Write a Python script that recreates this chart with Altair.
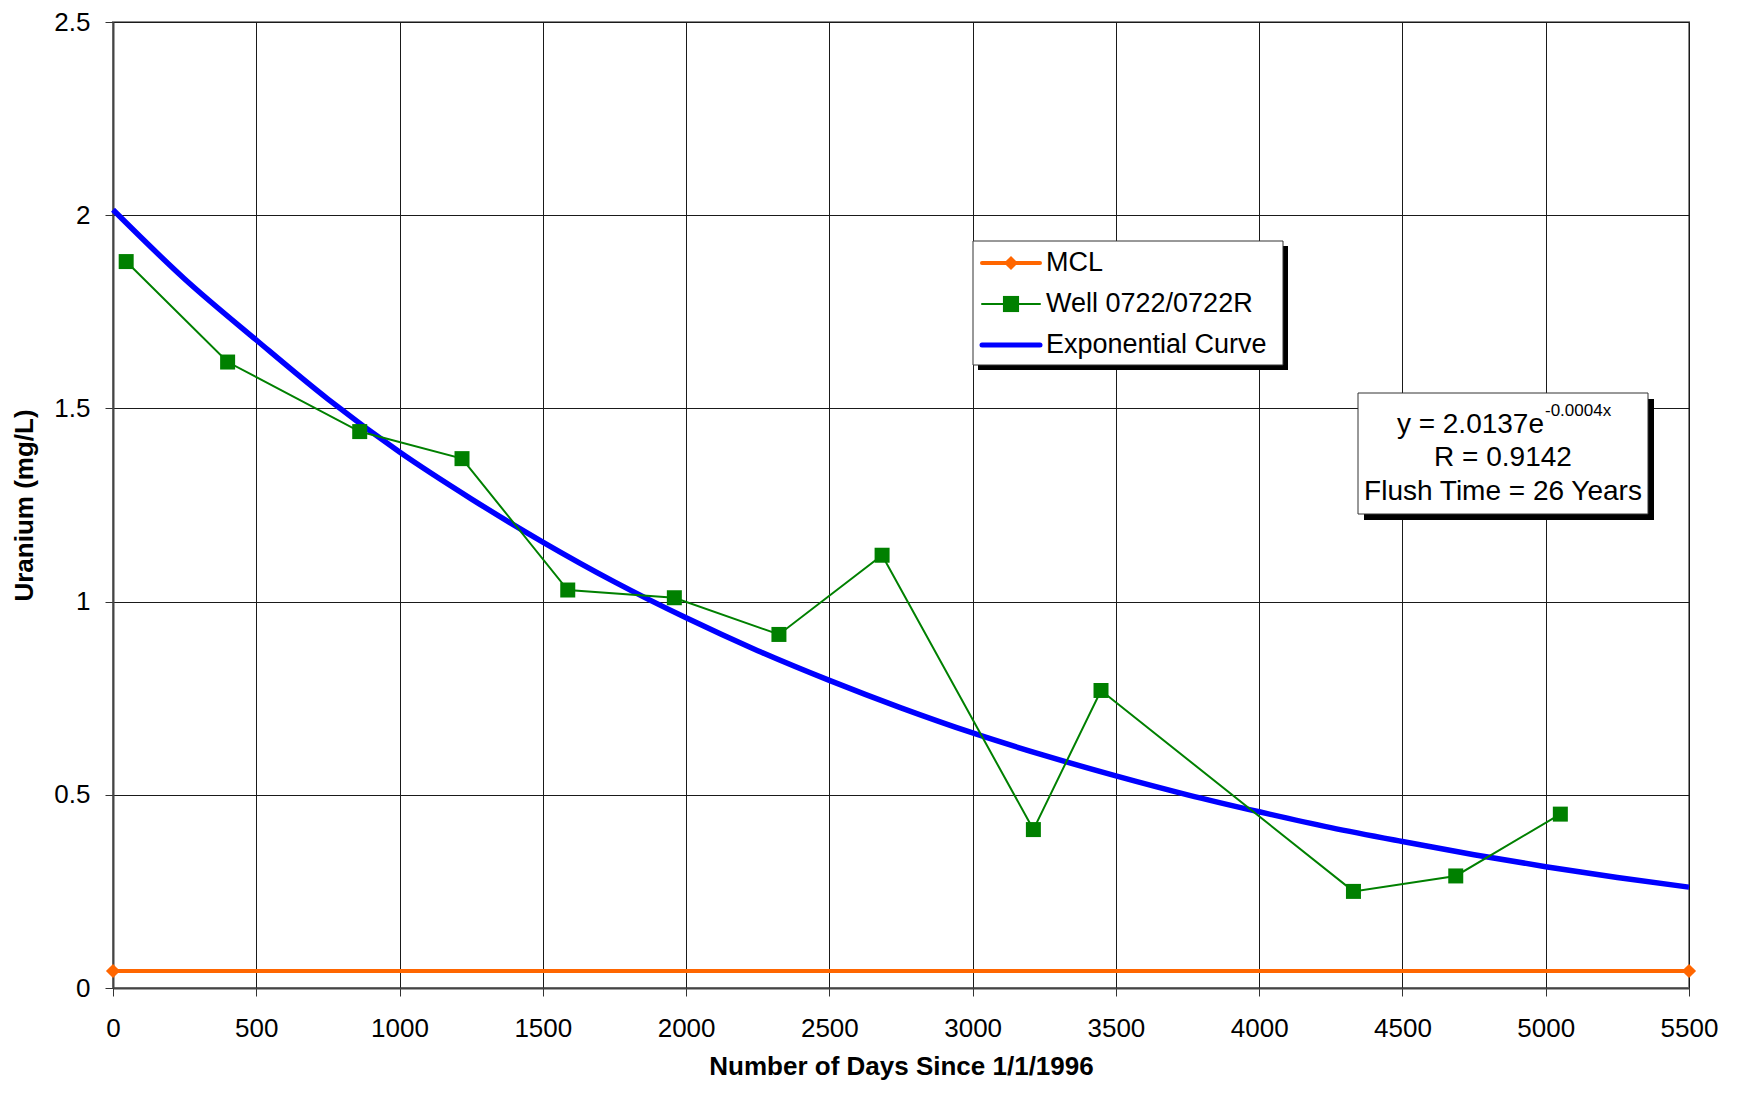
import altair as alt
import pandas as pd

# ---------------- data ----------------
well_days = [46, 400, 861, 1218, 1587, 1959, 2324, 2684, 3212, 3448, 4329, 4686, 5051]
well_u = [1.88, 1.62, 1.44, 1.37, 1.03, 1.01, 0.915, 1.12, 0.41, 0.77, 0.25, 0.29, 0.45]

mcl_days = [0, 5500]
mcl_u = [0.044, 0.044]

curve_days = [0, 250, 500, 750, 1000, 1250, 1500, 1750, 2000, 2250, 2500, 2750,
              3000, 3250, 3500, 3750, 4000, 4250, 4500, 4750, 5000, 5250, 5500]
curve_u = [2.014, 1.835, 1.677, 1.524, 1.387, 1.266, 1.154, 1.051, 0.958, 0.873,
           0.796, 0.725, 0.660, 0.602, 0.549, 0.500, 0.456, 0.415, 0.379, 0.345,
           0.314, 0.286, 0.261]

legend_labels = ["MCL", "Well 0722/0722R", "Exponential Curve"]
fit_main = "y = 2.0137e"
fit_exp = "-0.0004x"
fit_r = "R = 0.9142"
fit_flush = "Flush Time = 26 Years"

x_ticks = [0, 500, 1000, 1500, 2000, 2500, 3000, 3500, 4000, 4500, 5000, 5500]
y_ticks = [0, 0.5, 1, 1.5, 2, 2.5]

x_title = "Number of Days Since 1/1/1996"
y_title = "Uranium (mg/L)"

# ---------------- styling ----------------
FONT = "Liberation Sans"
W, H = 1576, 966
TOP = 14
ORANGE = "#FF6600"
GREEN = "#008000"
BLUE = "#0000FF"

x_enc = alt.X(
    "days:Q",
    scale=alt.Scale(domain=[0, 5500], nice=False),
    axis=alt.Axis(
        values=x_ticks, format="d", title=x_title, labelFlush=False,
        labelFontSize=26, labelPadding=32, labelBaseline="middle",
        tickSize=8, titleFontSize=26, titleFontWeight="bold",
        titleX=W / 2, titleY=78, titleBaseline="middle", titleAlign="center",
    ),
)
y_enc = alt.Y(
    "u:Q",
    scale=alt.Scale(domain=[0, 2.5], nice=False),
    axis=alt.Axis(
        values=y_ticks, format="~g", title=y_title, labelFlush=False,
        labelFontSize=26, labelPadding=15, tickSize=8,
        titleFontSize=26, titleFontWeight="bold",
        titleX=-89, titleY=H / 2, titleBaseline="middle", titleAlign="center",
        titleAngle=270,
    ),
)

curve_df = pd.DataFrame({"days": curve_days, "u": curve_u})
well_df = pd.DataFrame({"days": well_days, "u": well_u})
mcl_df = pd.DataFrame({"days": mcl_days, "u": mcl_u})

curve = alt.Chart(curve_df).mark_line(
    color=BLUE, strokeWidth=5.5, interpolate="monotone"
).encode(x=x_enc, y=y_enc)

well_line = alt.Chart(well_df).mark_line(color=GREEN, strokeWidth=2).encode(x=x_enc, y=y_enc)
well_pts = alt.Chart(well_df).mark_point(
    shape="square", filled=True, size=225, color=GREEN, opacity=1
).encode(x=x_enc, y=y_enc)

mcl_line = alt.Chart(mcl_df).mark_line(color=ORANGE, strokeWidth=4).encode(x=x_enc, y=y_enc)
mcl_pts = alt.Chart(mcl_df).mark_point(
    shape="diamond", filled=True, size=200, color=ORANGE, opacity=1, clip=False
).encode(x=x_enc, y=y_enc)


def one():
    return pd.DataFrame({"k": [0]})


def box(x0, y0, x1, y1, shadow=6):
    sh = alt.Chart(one()).mark_rect(color="black").encode(
        x=alt.value(x0 + shadow), x2=alt.value(x1 + shadow),
        y=alt.value(y0 + shadow), y2=alt.value(y1 + shadow))
    bx = alt.Chart(one()).mark_rect(fill="white", stroke="#333333", strokeWidth=1).encode(
        x=alt.value(x0), x2=alt.value(x1), y=alt.value(y0), y2=alt.value(y1))
    return [sh, bx]


D = 20 - (8 + TOP)  # shift so annotations keep their page positions

ann = []
# legend
LX0, LY0, LX1, LY1 = 860, 221 + D, 1170, 345 + D
ann += box(LX0, LY0, LX1, LY1, shadow=5)
leg_colors = [ORANGE, GREEN, BLUE]
leg_widths = [4, 2, 5]
leg_shapes = ["diamond", "square", None]
leg_sizes = [200, 260, 0]
for i, lab in enumerate(legend_labels):
    yy = 243 + D + 41 * i
    ann.append(alt.Chart(one()).mark_rule(
        color=leg_colors[i], strokeWidth=leg_widths[i], strokeCap="round"
    ).encode(x=alt.value(869), x2=alt.value(927), y=alt.value(yy)))
    if leg_shapes[i]:
        ann.append(alt.Chart(one()).mark_point(
            shape=leg_shapes[i], filled=True, size=leg_sizes[i],
            color=leg_colors[i], opacity=1
        ).encode(x=alt.value(898), y=alt.value(yy)))
    ann.append(alt.Chart(one()).mark_text(
        text=lab, align="left", baseline="middle", fontSize=27, font=FONT, color="black"
    ).encode(x=alt.value(933), y=alt.value(yy)))

# fit text box
TX0, TY0, TX1, TY1 = 1245, 373 + D, 1535, 494 + D
ann += box(TX0, TY0, TX1, TY1, shadow=6)
ann.append(alt.Chart(one()).mark_text(
    text=fit_main, align="right", baseline="middle", fontSize=28, font=FONT, color="black"
).encode(x=alt.value(1431), y=alt.value(405 + D)))
ann.append(alt.Chart(one()).mark_text(
    text=fit_exp, align="left", baseline="middle", fontSize=17, font=FONT, color="black"
).encode(x=alt.value(1432), y=alt.value(391 + D)))
ann.append(alt.Chart(one()).mark_text(
    text=fit_r, align="center", baseline="middle", fontSize=28, font=FONT, color="black"
).encode(x=alt.value(1390), y=alt.value(438 + D)))
ann.append(alt.Chart(one()).mark_text(
    text=fit_flush, align="center", baseline="middle", fontSize=28, font=FONT, color="black"
).encode(x=alt.value(1390), y=alt.value(472 + D)))

chart = alt.layer(curve, well_line, well_pts, mcl_line, mcl_pts, *ann).properties(
    width=W, height=H,
    autosize=alt.AutoSizeParams(type="none"),
    padding={"left": 105, "top": TOP, "right": 40, "bottom": 94},
    background="white",
).configure_view(
    stroke="#888888", strokeWidth=2
).configure_axis(
    labelFont=FONT, titleFont=FONT, labelColor="black", titleColor="black",
    gridColor="#1a1a1a", gridOpacity=1, gridWidth=1,
    domainColor="#444444", domainWidth=2, tickColor="#333333", tickWidth=1,
)

chart.save("out.html", embed_options={"renderer": "svg", "actions": False})
